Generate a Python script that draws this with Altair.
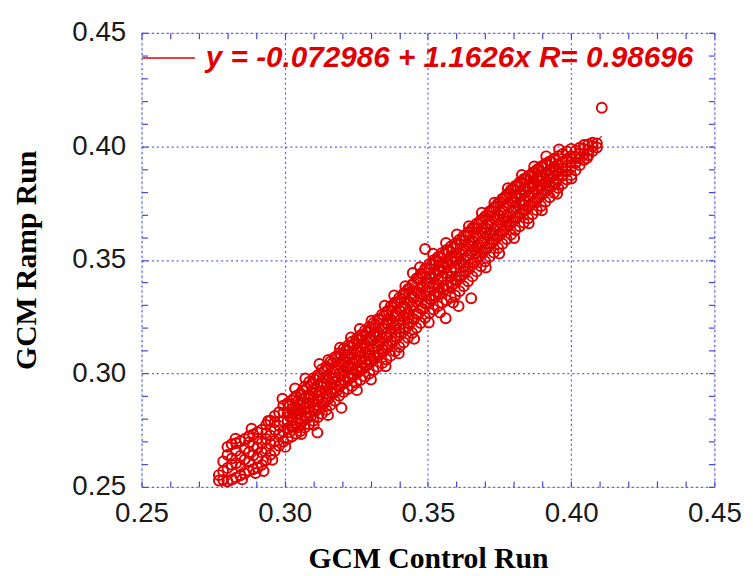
import altair as alt
import pandas as pd

# ---- data ----
# GCM control-run values (x) of each column of circles, and the ramp-run values (y) in it
control_cols = [
    0.2770, 0.2785, 0.2800, 0.2815, 0.2830, 0.2845, 0.2860, 0.2875, 0.2890, 0.2905,
    0.2920, 0.2935, 0.2950, 0.2965, 0.2980, 0.2995, 0.3010, 0.3025, 0.3040, 0.3055,
    0.3070, 0.3085, 0.3100, 0.3115, 0.3130, 0.3145, 0.3160, 0.3175, 0.3190, 0.3205,
    0.3220, 0.3235, 0.3250, 0.3265, 0.3280, 0.3295, 0.3310, 0.3325, 0.3340, 0.3355,
    0.3370, 0.3385, 0.3400, 0.3415, 0.3430, 0.3445, 0.3460, 0.3475, 0.3490, 0.3505,
    0.3520, 0.3535, 0.3550, 0.3565, 0.3580, 0.3595, 0.3610, 0.3625, 0.3640, 0.3655,
    0.3670, 0.3685, 0.3700, 0.3715, 0.3730, 0.3745, 0.3760, 0.3775, 0.3790, 0.3805,
    0.3820, 0.3835, 0.3850, 0.3865, 0.3880, 0.3895, 0.3910, 0.3925, 0.3940, 0.3955,
    0.3970, 0.3985, 0.4000, 0.4015, 0.4030, 0.4045, 0.4060, 0.4075, 0.4090,
]

ramp_cols = [
    [0.2528, 0.2552],
    [0.2531, 0.2569, 0.2612],
    [0.2524, 0.2583, 0.2641, 0.2676],
    [0.2532, 0.2597, 0.2625, 0.2688],
    [0.2541, 0.2604, 0.2659, 0.2692],
    [0.2551, 0.2588, 0.2636, 0.2701],
    [0.2559, 0.2620, 0.2668, 0.2711],
    [0.2571, 0.2609, 0.2653, 0.2697, 0.2723],
    [0.2578, 0.2639, 0.2681, 0.2731],
    [0.2584, 0.2627, 0.2671, 0.2712, 0.2741],
    [0.2597, 0.2652, 0.2694, 0.2752],
    [0.2618, 0.2667, 0.2711, 0.2738, 0.2773],
    [0.2641, 0.2689, 0.2726, 0.2792],
    [0.2659, 0.2702, 0.2751, 0.2784, 0.2812],
    [0.2681, 0.2731, 0.2769, 0.2829],
    [0.2699, 0.2744, 0.2791, 0.2826, 0.2858],
    [0.2712, 0.2759, 0.2788, 0.2821, 0.2869],
    [0.2722, 0.2768, 0.2806, 0.2843, 0.2881, 0.2795],
    [0.2734, 0.2781, 0.2819, 0.2852, 0.2901],
    [0.2746, 0.2801, 0.2838, 0.2869, 0.2912, 0.2779],
    [0.2761, 0.2812, 0.2849, 0.2893, 0.2941],
    [0.2776, 0.2829, 0.2871, 0.2904, 0.2962, 0.2851],
    [0.2791, 0.2848, 0.2887, 0.2928, 0.2979],
    [0.2806, 0.2861, 0.2903, 0.2946, 0.2992, 0.2884],
    [0.2822, 0.2879, 0.2921, 0.2962, 0.3018],
    [0.2839, 0.2898, 0.2941, 0.2979, 0.3031, 0.2912],
    [0.2861, 0.2918, 0.2957, 0.3002, 0.3052],
    [0.2879, 0.2933, 0.2981, 0.3019, 0.3071, 0.2962],
    [0.2901, 0.2951, 0.2997, 0.3041, 0.3089],
    [0.2918, 0.2972, 0.3011, 0.3058, 0.3108, 0.3039],
    [0.2931, 0.2986, 0.3029, 0.3071, 0.3122],
    [0.2944, 0.2999, 0.3048, 0.3083, 0.3139, 0.3019],
    [0.2958, 0.3016, 0.3061, 0.3102, 0.3152],
    [0.2972, 0.3031, 0.3074, 0.3119, 0.3168, 0.3096],
    [0.2986, 0.3049, 0.3092, 0.3131, 0.3189],
    [0.2999, 0.3062, 0.3108, 0.3151, 0.3204, 0.3081],
    [0.3014, 0.3077, 0.3121, 0.3168, 0.3222],
    [0.3029, 0.3094, 0.3142, 0.3183, 0.3239, 0.3118],
    [0.3045, 0.3109, 0.3158, 0.3201, 0.3259],
    [0.3061, 0.3127, 0.3176, 0.3221, 0.3272, 0.3159],
    [0.3078, 0.3144, 0.3195, 0.3239, 0.3296],
    [0.3097, 0.3162, 0.3211, 0.3258, 0.3312, 0.3249],
    [0.3116, 0.3181, 0.3232, 0.3279, 0.3333, 0.3198],
    [0.3136, 0.3199, 0.3251, 0.3296, 0.3352],
    [0.3157, 0.3221, 0.3269, 0.3318, 0.3371, 0.3243],
    [0.3178, 0.3241, 0.3292, 0.3339, 0.3392, 0.3301],
    [0.3201, 0.3262, 0.3314, 0.3361, 0.3418],
    [0.3222, 0.3285, 0.3336, 0.3381, 0.3439, 0.3352],
    [0.3245, 0.3308, 0.3359, 0.3402, 0.3461, 0.3548],
    [0.3266, 0.3328, 0.3379, 0.3423, 0.3482, 0.3397],
    [0.3281, 0.3345, 0.3394, 0.3441, 0.3499],
    [0.3296, 0.3359, 0.3411, 0.3456, 0.3513, 0.3378],
    [0.3311, 0.3376, 0.3428, 0.3472, 0.3531, 0.3489],
    [0.3322, 0.3389, 0.3441, 0.3488, 0.3544],
    [0.3334, 0.3401, 0.3452, 0.3501, 0.3559, 0.3426],
    [0.3343, 0.3413, 0.3466, 0.3514, 0.3571, 0.3497],
    [0.3362, 0.3429, 0.3482, 0.3531, 0.3589],
    [0.3384, 0.3449, 0.3501, 0.3548, 0.3606, 0.3472],
    [0.3406, 0.3468, 0.3519, 0.3567, 0.3622],
    [0.3427, 0.3488, 0.3538, 0.3586, 0.3641, 0.3559],
    [0.3449, 0.3509, 0.3557, 0.3606, 0.3659, 0.3531],
    [0.3472, 0.3531, 0.3578, 0.3624, 0.3676],
    [0.3493, 0.3551, 0.3596, 0.3643, 0.3692, 0.3619],
    [0.3514, 0.3571, 0.3617, 0.3662, 0.3713],
    [0.3532, 0.3589, 0.3636, 0.3683, 0.3731, 0.3608],
    [0.3552, 0.3609, 0.3654, 0.3701, 0.3749, 0.3677],
    [0.3571, 0.3628, 0.3676, 0.3719, 0.3769],
    [0.3592, 0.3649, 0.3694, 0.3741, 0.3788, 0.3667],
    [0.3611, 0.3668, 0.3714, 0.3759, 0.3808],
    [0.3631, 0.3687, 0.3733, 0.3779, 0.3826, 0.3756],
    [0.3648, 0.3703, 0.3749, 0.3794, 0.3841],
    [0.3664, 0.3719, 0.3764, 0.3811, 0.3856, 0.3742],
    [0.3683, 0.3736, 0.3781, 0.3826, 0.3869],
    [0.3701, 0.3752, 0.3797, 0.3841, 0.3884, 0.3823],
    [0.3719, 0.3769, 0.3812, 0.3856, 0.3897],
    [0.3737, 0.3786, 0.3829, 0.3871, 0.3911, 0.3848],
    [0.3756, 0.3803, 0.3842, 0.3884, 0.3924],
    [0.3776, 0.3821, 0.3858, 0.3896, 0.3934, 0.3869],
    [0.3795, 0.3838, 0.3871, 0.3908, 0.3946],
    [0.3816, 0.3856, 0.3889, 0.3921, 0.3957],
    [0.3835, 0.3871, 0.3903, 0.3932, 0.3966],
    [0.3854, 0.3889, 0.3916, 0.3944, 0.3978],
    [0.3873, 0.3906, 0.3931, 0.3957, 0.3989],
    [0.3894, 0.3925, 0.3951, 0.3981],
    [0.3917, 0.3946, 0.3968, 0.3994],
    [0.3940, 0.3967, 0.3989, 0.4006],
    [0.3961, 0.3984, 0.4008],
    [0.3979, 0.4001, 0.4016],
    [0.3995, 0.4013],
]

# extra circles lying between the columns above, in the dense middle of the cloud
control_mid = [
    0.3017, 0.3032, 0.3047, 0.3062, 0.3077, 0.3092, 0.3107, 0.3122, 0.3137, 0.3152,
    0.3167, 0.3182, 0.3197, 0.3212, 0.3227, 0.3242, 0.3257, 0.3272, 0.3287, 0.3302,
    0.3317, 0.3332, 0.3347, 0.3362, 0.3377, 0.3392, 0.3407, 0.3422, 0.3437, 0.3452,
    0.3467, 0.3482, 0.3497, 0.3512, 0.3527, 0.3542, 0.3557, 0.3572, 0.3587, 0.3602,
    0.3617, 0.3632, 0.3647, 0.3662, 0.3677, 0.3692, 0.3707, 0.3722, 0.3737, 0.3752,
    0.3767, 0.3782, 0.3797, 0.3812, 0.3827, 0.3842, 0.3857, 0.3872, 0.3887, 0.3902,
    0.3917, 0.3932, 0.3947,
]
ramp_mid = [
    [0.2741, 0.2812, 0.2857], [0.2766, 0.2829, 0.2889], [0.2762, 0.2843, 0.2877],
    [0.2788, 0.2861, 0.2925], [0.2801, 0.2866, 0.2932], [0.2812, 0.2897, 0.2951],
    [0.2834, 0.2915, 0.2973], [0.2851, 0.2919, 0.2988], [0.2868, 0.2951, 0.3009],
    [0.2887, 0.2971, 0.3024], [0.2909, 0.2978, 0.3046], [0.2924, 0.3011, 0.3068],
    [0.2948, 0.3026, 0.3081], [0.2961, 0.3047, 0.3099], [0.2978, 0.3062, 0.3118],
    [0.2992, 0.3068, 0.3131], [0.3006, 0.3091, 0.3148], [0.3021, 0.3109, 0.3166],
    [0.3036, 0.3119, 0.3181], [0.3052, 0.3141, 0.3199], [0.3068, 0.3161, 0.3216],
    [0.3083, 0.3171, 0.3236], [0.3101, 0.3196, 0.3254], [0.3119, 0.3213, 0.3276],
    [0.3138, 0.3226, 0.3291], [0.3157, 0.3253, 0.3311], [0.3176, 0.3272, 0.3329],
    [0.3197, 0.3288, 0.3353], [0.3218, 0.3312, 0.3373], [0.3239, 0.3334, 0.3396],
    [0.3262, 0.3355, 0.3419], [0.3284, 0.3378, 0.3438], [0.3306, 0.3398, 0.3461],
    [0.3324, 0.3418, 0.3478], [0.3339, 0.3431, 0.3496], [0.3352, 0.3449, 0.3512],
    [0.3368, 0.3463, 0.3526], [0.3381, 0.3478, 0.3539], [0.3392, 0.3489, 0.3552],
    [0.3409, 0.3503, 0.3568], [0.3429, 0.3521, 0.3586], [0.3449, 0.3539, 0.3604],
    [0.3468, 0.3559, 0.3622], [0.3489, 0.3577, 0.3641], [0.3512, 0.3596, 0.3658],
    [0.3533, 0.3616, 0.3677], [0.3553, 0.3634, 0.3696], [0.3573, 0.3655, 0.3716],
    [0.3592, 0.3673, 0.3734], [0.3611, 0.3693, 0.3753], [0.3631, 0.3712, 0.3772],
    [0.3652, 0.3731, 0.3792], [0.3671, 0.3752, 0.3811], [0.3689, 0.3769, 0.3826],
    [0.3706, 0.3783, 0.3842], [0.3722, 0.3799, 0.3858], [0.3741, 0.3815, 0.3872],
    [0.3757, 0.3831, 0.3886], [0.3774, 0.3846, 0.3899], [0.3791, 0.3859, 0.3911],
    [0.3807, 0.3872, 0.3921], [0.3824, 0.3884, 0.3931], [0.3841, 0.3897, 0.3938],
]

# circles on the ragged upper edge of the cloud
upper_edge_control = [
    0.2828, 0.2884, 0.2942, 0.2992, 0.3036, 0.3072, 0.3121, 0.3152, 0.3193, 0.3231,
    0.3262, 0.3303, 0.3349, 0.3382, 0.3421, 0.3447, 0.3472, 0.3518, 0.3563, 0.3601,
    0.3643, 0.3688, 0.3732, 0.3779, 0.3828, 0.3871, 0.3913, 0.3958,
]
upper_edge_ramp = [
    0.2712, 0.2756, 0.2790, 0.2888, 0.2934, 0.2978, 0.3041, 0.3059, 0.3113, 0.3158,
    0.3196, 0.3232, 0.3298, 0.3343, 0.3384, 0.3442, 0.3468, 0.3527, 0.3574, 0.3612,
    0.3648, 0.3708, 0.3752, 0.3816, 0.3874, 0.3911, 0.3956, 0.3986,
]
# circles on the ragged lower edge of the cloud
lower_edge_control = [
    0.2851, 0.2898, 0.2957, 0.3002, 0.3058, 0.3101, 0.3151, 0.3198, 0.3252, 0.3301,
    0.3352, 0.3398, 0.3452, 0.3503, 0.3542, 0.3562, 0.3588, 0.3607, 0.3651, 0.3702,
    0.3749, 0.3801, 0.3852, 0.3898, 0.3951, 0.4001, 0.4055,
]
lower_edge_ramp = [
    0.2533, 0.2561, 0.2619, 0.2676, 0.2733, 0.2772, 0.2816, 0.2848, 0.2926, 0.2973,
    0.3031, 0.3088, 0.3152, 0.3224, 0.3268, 0.3243, 0.3312, 0.3296, 0.3331, 0.3466,
    0.3528, 0.3596, 0.3661, 0.3718, 0.3791, 0.3858, 0.3948,
]

# isolated circles away from the main cloud
stray_control = [0.2926, 0.3114, 0.4107]
stray_ramp = [0.2570, 0.2739, 0.4170]

fit_intercept = -0.072986
fit_slope = 1.1626
fit_label = "y = -0.072986 + 1.1626x R= 0.98696"

tick_values = [0.25, 0.26, 0.27, 0.28, 0.29, 0.30, 0.31, 0.32, 0.33, 0.34, 0.35,
               0.36, 0.37, 0.38, 0.39, 0.40, 0.41, 0.42, 0.43, 0.44, 0.45]
axis_domain = [0.25, 0.45]

# ---- build tables ----
rows = []
for cx, ys in zip(control_cols, ramp_cols):
    for cy in ys:
        rows.append((cx, cy))
for cx, ys in zip(control_mid, ramp_mid):
    for cy in ys:
        rows.append((cx, cy))
rows += list(zip(upper_edge_control, upper_edge_ramp))
rows += list(zip(lower_edge_control, lower_edge_ramp))
rows += list(zip(stray_control, stray_ramp))
df = pd.DataFrame(rows, columns=["control", "ramp"])

x_ends = [df["control"].min(), df["control"].max()]
line_df = pd.DataFrame({
    "control": x_ends,
    "ramp": [fit_intercept + fit_slope * v for v in x_ends],
    "label": [fit_label, fit_label],
})

BLUE = "#4646dc"
GRID = "#5c5cee"
RED = "#e00000"
major_test = "round(datum.value*100) % 5 == 0"
label_expr = major_test + " ? format(datum.value, '.2f') : ''"

x_scale = alt.Scale(domain=axis_domain, nice=False, zero=False)
y_scale = alt.Scale(domain=axis_domain, nice=False, zero=False)

common_axis = dict(
    values=tick_values, offset=-6, tickSize=6, tickColor=BLUE, tickWidth=1.2,
    domain=False, labelOverlap=False, labelFlush=False, labelBound=False,
    labelFont="Liberation Sans", labelFontSize=28, labelColor="#1a1a1a",
    titleFont="Liberation Serif", titleFontSize=30, titleFontWeight="bold",
    titleColor="#000000",
)
grid_opts = dict(
    grid=True, gridColor=GRID, gridDash=[2, 3], gridWidth=1.2,
    gridOpacity={"condition": {"test": major_test, "value": 1}, "value": 0},
)

points = alt.Chart(df).mark_point(
    shape="circle", filled=False, color=RED, size=100, strokeWidth=2, opacity=1
).encode(
    x=alt.X("control:Q", scale=x_scale, axis=alt.Axis(
        orient="bottom", labelExpr=label_expr, labelPadding=13, labelAlign="center",
        title="GCM Control Run", titlePadding=16, **grid_opts, **common_axis)),
    y=alt.Y("ramp:Q", scale=y_scale, axis=alt.Axis(
        orient="left", labelExpr=label_expr, labelPadding=16,
        title="GCM Ramp Run", titlePadding=31, **grid_opts, **common_axis)),
)

fit_line = alt.Chart(line_df).mark_line(strokeWidth=1.2, clip=True).encode(
    x=alt.X("control:Q", scale=x_scale, axis=alt.Axis(
        orient="top", labels=False, grid=False, title=None, **common_axis)),
    y=alt.Y("ramp:Q", scale=y_scale, axis=alt.Axis(
        orient="right", labels=False, grid=False, title=None, **common_axis)),
    color=alt.Color("label:N", scale=alt.Scale(range=[RED]), legend=alt.Legend(
        orient="none", legendX=0, legendY=-2, title=None, padding=0,
        symbolType="stroke", symbolSize=2809, symbolStrokeWidth=1.5,
        labelFont="Liberation Sans", labelFontSize=30, labelFontStyle="italic",
        labelFontWeight="bold", labelColor=RED, labelOffset=10, labelLimit=0,
    )),
)

chart = alt.layer(fit_line, points).resolve_axis(
    x="independent", y="independent"
).properties(
    width=579, height=459,
    padding={"left": 135, "top": 22, "right": 31, "bottom": 87},
    autosize=alt.AutoSizeParams(type="none"),
).configure_view(
    stroke=BLUE, strokeWidth=2
).configure(background="white")

chart.save("out.html", embed_options={"renderer": "svg", "actions": False})
